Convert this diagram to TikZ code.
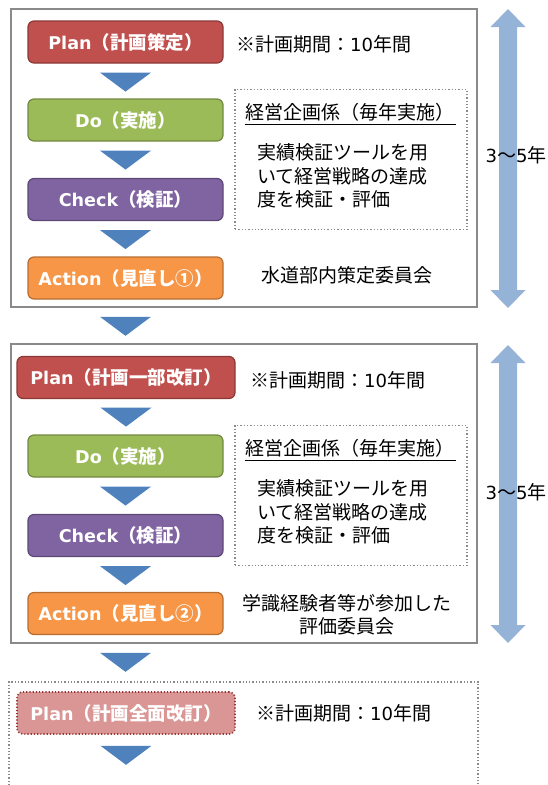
\documentclass[tikz,border=0pt]{standalone}
\usepackage{fontspec}
\setmainfont{Noto Sans CJK JP}
\newfontfamily\latf{DejaVu Sans}[Scale=0.95]
\usetikzlibrary{calc}
\definecolor{planF}{HTML}{C0504D}\definecolor{planD}{HTML}{8C3836}
\definecolor{doF}{HTML}{9BBB59}\definecolor{doD}{HTML}{71893F}
\definecolor{chkF}{HTML}{8064A2}\definecolor{chkD}{HTML}{5C4776}
\definecolor{actF}{HTML}{F79646}\definecolor{actD}{HTML}{B66D31}
\definecolor{plan3F}{HTML}{D99694}\definecolor{plan3D}{HTML}{953735}
\definecolor{triB}{HTML}{4F81BD}
\definecolor{arrB}{HTML}{95B3D7}
\definecolor{frameG}{HTML}{8A8A8A}
\newcommand\fsN{\fontsize{19}{23.5}\selectfont}
\newcommand\fsB{\bfseries\fontsize{18.5}{21}\selectfont}
\newcommand\lt[1]{{\latf #1}}
\begin{document}
\begin{tikzpicture}[x=1pt,y=-1pt,
  stepbox/.style={rounded corners=6pt, minimum width=195pt, minimum height=42pt,
    line width=1.2pt, text=white, font=\fsB, inner sep=0pt},
  planbox/.style={stepbox, fill=planF, draw=planD},
  dobox/.style={stepbox, fill=doF, draw=doD},
  chkbox/.style={stepbox, fill=chkF, draw=chkD},
  actbox/.style={stepbox, fill=actF, draw=actD},
  outerbox/.style={draw=frameG, line width=1.6pt, inner sep=0pt},
  dotbox/.style={draw=frameG, dotted, line width=1.3pt, inner sep=0pt},
  txt/.style={font=\fsN, inner sep=0pt},
  tri/.style={fill=triB},
  dblarr/.style={fill=arrB}]
\useasboundingbox (0,0) rectangle (547,785);

% ---------- section 1 ----------
\node[outerbox, minimum width=466pt, minimum height=298pt] (box1) at (244,158) {};
\node[planbox] (plan1) at (125.5,42) {\lt{Plan}（計画策定）};
\node[dobox] (do1) at (125.5,120) {\lt{Do}（実施）};
\node[chkbox] (chk1) at (125.5,199.5) {\lt{Check}（検証）};
\node[actbox] (act1) at (125.5,278) {\lt{Action}（見直し①）};
\node[txt, anchor=west] (per1) at (236,44) {※計画期間：\lt{10}年間};
\node[dotbox, minimum width=232pt, minimum height=140pt] (dot1) at (351,159.5) {};
\node[txt, anchor=west] (h1) at (245,112) {経営企画係（毎年実施）};
\draw[line width=0.8pt] ($(h1.south west)+(0,3.5)$) -- ++(211,0);
\node[txt, anchor=west, align=left] (b1) at (257,176) {実績検証ツールを用\\いて経営戦略の達成\\度を検証・評価};
\node[txt] (c1) at (347,275.5) {水道部内策定委員会};
\fill[dblarr] (508,9) -- (525.5,27) -- (517,27) -- (517,290) -- (525.5,290) -- (508,308)
  -- (490.5,290) -- (499,290) -- (499,27) -- (490.5,27) -- cycle;
\node[txt] (y1) at (516,155) {\lt{3}〜\lt{5}年};

% ---------- section 2 ----------
\node[outerbox, minimum width=466pt, minimum height=299pt] (box2) at (244,493.5) {};
\node[planbox, minimum width=218pt] (plan2) at (126,377.5) {\lt{Plan}（計画一部改訂）};
\node[dobox] (do2) at (125.5,456) {\lt{Do}（実施）};
\node[chkbox] (chk2) at (125.5,535.5) {\lt{Check}（検証）};
\node[actbox] (act2) at (125.5,613.5) {\lt{Action}（見直し②）};
\node[txt, anchor=west] (per2) at (250,380) {※計画期間：\lt{10}年間};
\node[dotbox, minimum width=232pt, minimum height=140pt] (dot2) at (351,495.5) {};
\node[txt, anchor=west] (h2) at (245,448) {経営企画係（毎年実施）};
\draw[line width=0.8pt] ($(h2.south west)+(0,3.5)$) -- ++(211,0);
\node[txt, anchor=west, align=left] (b2) at (257,512) {実績検証ツールを用\\いて経営戦略の達成\\度を検証・評価};
\node[txt, align=center] (c2) at (347,614.5) {学識経験者等が参加した\\評価委員会};
\fill[dblarr] (508,345) -- (525.5,363) -- (517,363) -- (517,625) -- (525.5,625) -- (508,643)
  -- (490.5,625) -- (499,625) -- (499,363) -- (490.5,363) -- cycle;
\node[txt] (y2) at (516,492) {\lt{3}〜\lt{5}年};

% ---------- section 3 ----------
\coordinate (d3a) at (9,795);
\coordinate (d3b) at (478,795);
\draw[draw=frameG, dotted, line width=1.3pt] (d3a) -- (9,682) -- (478,682) -- (d3b);
\node[stepbox, minimum width=218pt, fill=plan3F, draw=plan3D, dotted, line width=1.6pt] (plan3) at (126,713) {\lt{Plan}（計画全面改訂）};
\node[txt, anchor=west] (per3) at (256,713) {※計画期間：\lt{10}年間};

% ---------- triangles ----------
\newcommand\tridown[2]{\fill[tri] ($(#1)+(-25.5,#2)$) -- ++(51,0) -- ++(-25.5,19) -- cycle;}
\tridown{plan1.south}{9}
\tridown{do1.south}{9}
\tridown{chk1.south}{9}
\tridown{act1.south |- box1.south}{9}
\tridown{plan2.south}{8.5}
\tridown{do2.south}{9}
\tridown{chk2.south}{9}
\tridown{act2.south |- box2.south}{9}
\tridown{plan3.south}{11}
\end{tikzpicture}
\end{document}
